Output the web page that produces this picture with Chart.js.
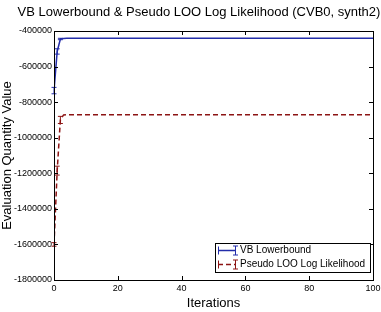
<!DOCTYPE html>
<html>
<head>
<meta charset="utf-8">
<script src="https://cdn.jsdelivr.net/npm/chart.js@4"></script>
<style>
    html, body { margin: 0; padding: 0; background: #fff; }
</style>
</head>
<body>
<canvas id="chart" width="381" height="312"></canvas>
<script>
const iterations = [
    0, 1, 2, 3, 4, 5, 6, 7, 8, 9,
    10, 11, 12, 13, 14, 15, 16, 17, 18, 19,
    20, 21, 22, 23, 24, 25, 26, 27, 28, 29,
    30, 31, 32, 33, 34, 35, 36, 37, 38, 39,
    40, 41, 42, 43, 44, 45, 46, 47, 48, 49,
    50, 51, 52, 53, 54, 55, 56, 57, 58, 59,
    60, 61, 62, 63, 64, 65, 66, 67, 68, 69,
    70, 71, 72, 73, 74, 75, 76, 77, 78, 79,
    80, 81, 82, 83, 84, 85, 86, 87, 88, 89,
    90, 91, 92, 93, 94, 95, 96, 97, 98, 99,
    100
];
const vbLowerbound = [
    -735000, -515000, -445000, -442000, -441000, -441000, -441000, -441000, -441000, -441000,
    -441000, -441000, -441000, -441000, -441000, -441000, -441000, -441000, -441000, -441000,
    -441000, -441000, -441000, -441000, -441000, -441000, -441000, -441000, -441000, -441000,
    -441000, -441000, -441000, -441000, -441000, -441000, -441000, -441000, -441000, -441000,
    -441000, -441000, -441000, -441000, -441000, -441000, -441000, -441000, -441000, -441000,
    -441000, -441000, -441000, -441000, -441000, -441000, -441000, -441000, -441000, -441000,
    -441000, -441000, -441000, -441000, -441000, -441000, -441000, -441000, -441000, -441000,
    -441000, -441000, -441000, -441000, -441000, -441000, -441000, -441000, -441000, -441000,
    -441000, -441000, -441000, -441000, -441000, -441000, -441000, -441000, -441000, -441000,
    -441000, -441000, -441000, -441000, -441000, -441000, -441000, -441000, -441000, -441000,
    -441000
];
const pseudoLoo = [
    -1600000, -1185000, -900000, -872000, -871000, -871000, -871000, -871000, -871000, -871000,
    -871000, -871000, -871000, -871000, -871000, -871000, -871000, -871000, -871000, -871000,
    -871000, -871000, -871000, -871000, -871000, -871000, -871000, -871000, -871000, -871000,
    -871000, -871000, -871000, -871000, -871000, -871000, -871000, -871000, -871000, -871000,
    -871000, -871000, -871000, -871000, -871000, -871000, -871000, -871000, -871000, -871000,
    -871000, -871000, -871000, -871000, -871000, -871000, -871000, -871000, -871000, -871000,
    -871000, -871000, -871000, -871000, -871000, -871000, -871000, -871000, -871000, -871000,
    -871000, -871000, -871000, -871000, -871000, -871000, -871000, -871000, -871000, -871000,
    -871000, -871000, -871000, -871000, -871000, -871000, -871000, -871000, -871000, -871000,
    -871000, -871000, -871000, -871000, -871000, -871000, -871000, -871000, -871000, -871000,
    -871000
];
// error bar half-widths for the first iterations (later ones are too small to see)
const vbErr = [18000, 15000, 4000];
const looErr = [10000, 25000, 20000];

const xTicks = [0, 20, 40, 60, 80, 100];
const yTicks = [-1800000, -1600000, -1400000, -1200000, -1000000, -800000, -600000, -400000];

const TITLE = "VB Lowerbound & Pseudo LOO Log Likelihood (CVB0, synth2)";
const BLUE = "rgb(35, 45, 170)";
const RED = "rgb(140, 20, 20)";
const FONT = "'Liberation Sans', Arial, Helvetica, sans-serif";

const toPoints = values => iterations.map((x, i) => ({ x, y: values[i] }));

const frame = {
    id: "frame",
    afterDatasetsDraw(chart) {
        const { ctx, chartArea: a, scales: { x, y } } = chart;
        ctx.save();

        // error bars
        chart.data.datasets.forEach(ds => {
            ctx.strokeStyle = ds.borderColor;
            ctx.lineWidth = 1;
            ctx.setLineDash([]);
            ds.errors.forEach((e, i) => {
                const px = x.getPixelForValue(iterations[i]);
                const top = y.getPixelForValue(ds.data[i].y + e);
                const bot = y.getPixelForValue(ds.data[i].y - e);
                ctx.beginPath();
                ctx.moveTo(px, top); ctx.lineTo(px, bot);
                ctx.moveTo(px - 2.5, top); ctx.lineTo(px + 2.5, top);
                ctx.moveTo(px - 2.5, bot); ctx.lineTo(px + 2.5, bot);
                ctx.stroke();
            });
        });

        // box + inward ticks
        ctx.strokeStyle = "#000";
        ctx.lineWidth = 1;
        ctx.strokeRect(Math.round(a.left) + 0.5, Math.round(a.top) + 0.5,
            Math.round(a.right - a.left), Math.round(a.bottom - a.top));
        ctx.beginPath();
        xTicks.forEach(v => {
            const px = Math.round(x.getPixelForValue(v)) + 0.5;
            ctx.moveTo(px, a.bottom); ctx.lineTo(px, a.bottom - 4);
            ctx.moveTo(px, a.top); ctx.lineTo(px, a.top + 4);
        });
        yTicks.forEach(v => {
            const py = Math.round(y.getPixelForValue(v)) + 0.5;
            ctx.moveTo(a.left, py); ctx.lineTo(a.left + 4, py);
            ctx.moveTo(a.right, py); ctx.lineTo(a.right - 4, py);
        });
        ctx.stroke();

        // legend
        const bx = 215.5, by = 243.5, bw = 155, bh = 29;
        ctx.fillStyle = "#fff";
        ctx.fillRect(bx, by, bw, bh);
        ctx.strokeRect(bx, by, bw, bh);
        chart.data.datasets.forEach((ds, i) => {
            const cy = 250.5 + i * 14;
            ctx.strokeStyle = ds.borderColor;
            ctx.lineWidth = 1.5;
            ctx.setLineDash(ds.borderDash || []);
            ctx.beginPath();
            ctx.moveTo(218, cy); ctx.lineTo(236, cy);
            ctx.stroke();
            ctx.setLineDash([]);
            ctx.lineWidth = 1;
            ctx.beginPath();
            ctx.moveTo(218.5, cy - 4); ctx.lineTo(218.5, cy + 4);
            ctx.moveTo(235.5, cy - 4.5); ctx.lineTo(235.5, cy + 4.5);
            ctx.moveTo(233, cy - 4.5); ctx.lineTo(238, cy - 4.5);
            ctx.moveTo(233, cy + 4.5); ctx.lineTo(238, cy + 4.5);
            ctx.stroke();
            ctx.fillStyle = "#000";
            ctx.font = "10px " + FONT;
            ctx.textBaseline = "middle";
            ctx.textAlign = "left";
            ctx.fillText(ds.label, 240, cy);
        });

        // figure title (matplotlib places it off-centre here)
        ctx.fillStyle = "#000";
        ctx.font = "13px " + FONT;
        ctx.textAlign = "center";
        ctx.textBaseline = "middle";
        ctx.fillText(TITLE, 199, 12);
        ctx.restore();
    }
};

new Chart(document.getElementById("chart"), {
    type: "line",
    data: {
        datasets: [{
            label: "VB Lowerbound",
            data: toPoints(vbLowerbound),
            errors: vbErr,
            borderColor: BLUE,
            borderWidth: 1.5,
            pointRadius: 0,
            tension: 0
        }, {
            label: "Pseudo LOO Log Likelihood",
            data: toPoints(pseudoLoo),
            errors: looErr,
            borderColor: RED,
            borderWidth: 1.5,
            borderDash: [5, 3],
            pointRadius: 0,
            tension: 0
        }]
    },
    options: {
        responsive: false,
        animation: false,
        layout: { padding: { left: 0, right: 0, top: 31, bottom: 0 } },
        plugins: {
            legend: { display: false },
            tooltip: { enabled: false },
            title: { display: false }
        },
        scales: {
            x: {
                type: "linear",
                min: 0,
                max: 100,
                afterBuildTicks: s => { s.ticks = xTicks.map(value => ({ value })); },
                afterFit: s => { s.height = 32; s.paddingLeft = 0; s.paddingRight = 8; },
                grid: { display: false, drawTicks: false },
                border: { display: false },
                ticks: {
                    color: "#000", font: { family: FONT, size: 9 }, padding: 3,
                    maxRotation: 0, autoSkip: false, callback: v => String(v)
                },
                title: {
                    display: true,
                    text: "Iterations",
                    color: "#000",
                    font: { family: FONT, size: 13 },
                    padding: { top: 3, bottom: 1 }
                }
            },
            y: {
                min: -1800000,
                max: -400000,
                afterBuildTicks: s => { s.ticks = yTicks.map(value => ({ value })); },
                afterFit: s => { s.width = 54; },
                grid: { display: false, drawTicks: false },
                border: { display: false },
                ticks: {
                    color: "#000", font: { family: FONT, size: 9 }, padding: 2,
                    autoSkip: false, callback: v => String(v)
                },
                title: {
                    display: true,
                    text: "Evaluation Quantity Value",
                    color: "#000",
                    font: { family: FONT, size: 13 },
                    padding: { top: 0, bottom: 0 }
                }
            }
        }
    },
    plugins: [frame]
});
</script>
</body>
</html>
